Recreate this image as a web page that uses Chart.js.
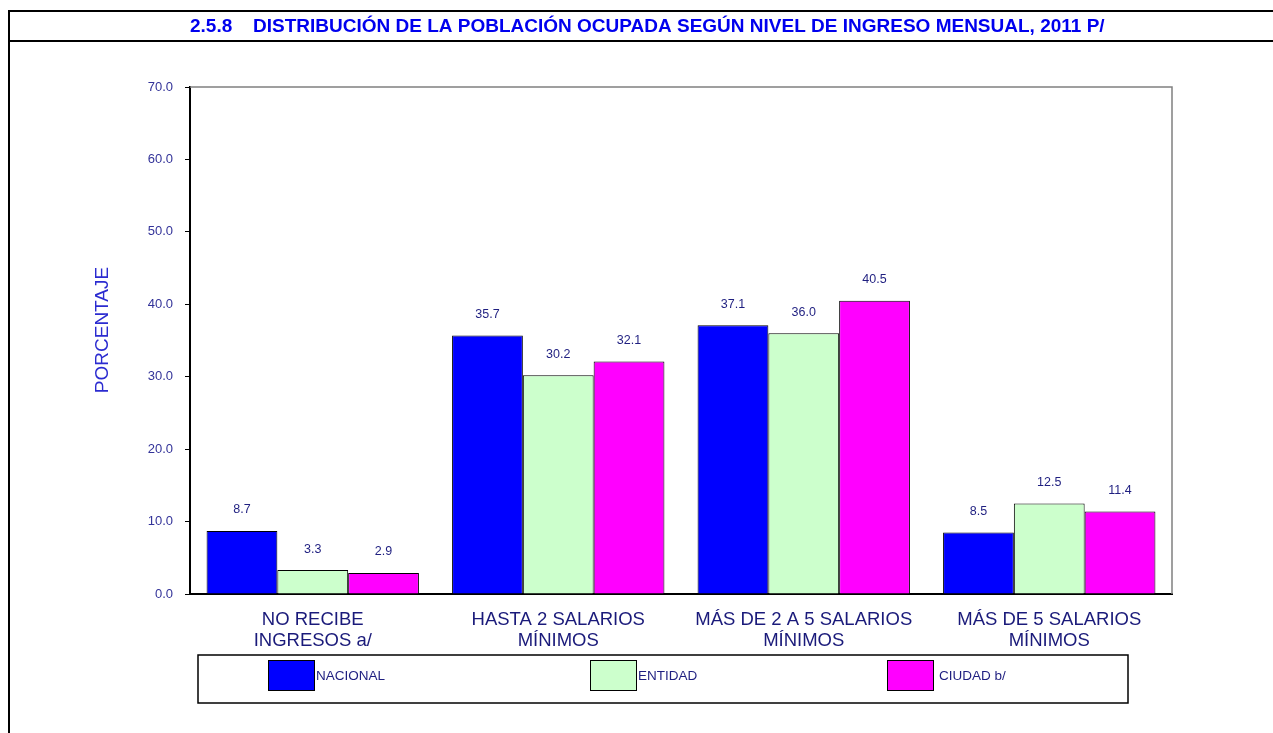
<!DOCTYPE html>
<html>
<head>
<meta charset="utf-8">
<script src="https://cdn.jsdelivr.net/npm/chart.js@4.4.0/dist/chart.umd.min.js"></script>
<style>
  html, body { margin: 0; padding: 0; background: #fff; }
  #wrap { position: relative; width: 1273px; height: 733px; }
</style>
</head>
<body>
<div id="wrap"><canvas id="incomeChart" width="1273" height="733"></canvas></div>
<script>
// Data
const categories = [
  ["NO RECIBE", "INGRESOS a/"],
  ["HASTA 2 SALARIOS", "MÍNIMOS"],
  ["MÁS DE 2 A 5 SALARIOS", "MÍNIMOS"],
  ["MÁS DE 5 SALARIOS", "MÍNIMOS"]
];
const seriesNames = ["NACIONAL", "ENTIDAD", "CIUDAD b/"];
const nacional = [8.7, 35.7, 37.1, 8.5];
const entidad = [3.3, 30.2, 36.0, 12.5];
const ciudad = [2.9, 32.1, 40.5, 11.4];
const yTicks = [0, 10, 20, 30, 40, 50, 60, 70];

const titleNum = "2.5.8";
const titleText = "DISTRIBUCIÓN DE LA POBLACIÓN OCUPADA SEGÚN NIVEL DE INGRESO MENSUAL, 2011 P/";
const yTitle = "PORCENTAJE";

const SANS = "'Liberation Sans', Arial, sans-serif";

// frame, title, y title, plot border, value labels, legend box
const decor = {
  id: "decor",
  afterDraw(chart) {
    const c = chart.ctx;
    const area = chart.chartArea;
    c.save();

    // outer frame
    c.strokeStyle = "#000";
    c.lineWidth = 2;
    c.beginPath();
    c.moveTo(9, 11); c.lineTo(1273, 11);
    c.moveTo(9, 41); c.lineTo(1273, 41);
    c.moveTo(9, 10); c.lineTo(9, 733);
    c.stroke();

    // title
    c.fillStyle = "#0000ee";
    c.font = "bold 19px " + SANS;
    c.textBaseline = "middle";
    c.textAlign = "left";
    c.fillText(titleNum, 190, 27);
    c.fillText(titleText, 253, 27);

    // y title
    c.save();
    c.translate(103, 330);
    c.rotate(-Math.PI / 2);
    c.textAlign = "center";
    c.fillStyle = "#2b2bd0";
    c.font = "19px " + SANS;
    c.fillText(yTitle, 0, 0);
    c.restore();

    // plot border top / right
    c.strokeStyle = "#808080";
    c.lineWidth = 1.5;
    c.beginPath();
    c.moveTo(area.left, area.top);
    c.lineTo(area.right, area.top);
    c.lineTo(area.right, area.bottom);
    c.stroke();

    // value labels
    c.fillStyle = "#1f1f80";
    c.font = "12.5px " + SANS;
    c.textAlign = "center";
    c.textBaseline = "middle";
    chart.data.datasets.forEach((ds, i) => {
      chart.getDatasetMeta(i).data.forEach((bar, j) => {
        c.fillText(ds.data[j].toFixed(1), bar.x, bar.y - 21);
      });
    });

    // legend box
    c.strokeStyle = "#000";
    c.lineWidth = 1.5;
    c.strokeRect(198, 655, 930, 48);
    const swatchX = [268, 590, 887];
    chart.data.datasets.forEach((ds, i) => {
      c.fillStyle = ds.backgroundColor;
      c.fillRect(swatchX[i], 660, 46, 30);
      c.lineWidth = 1;
      c.strokeRect(swatchX[i] + 0.5, 660.5, 46, 30);
      c.fillStyle = "#1f1f80";
      c.textAlign = "left";
      c.font = "13.5px " + SANS;
      c.fillText(ds.label, swatchX[i] + 48 + (i === 2 ? 4 : 0), 676);
    });

    c.restore();
  }
};

const ctx = document.getElementById("incomeChart").getContext("2d");
new Chart(ctx, {
  type: "bar",
  data: {
    labels: categories,
    datasets: [
      { label: seriesNames[0], data: nacional, backgroundColor: "#0000ff" },
      { label: seriesNames[1], data: entidad, backgroundColor: "#ccffcc" },
      { label: seriesNames[2], data: ciudad, backgroundColor: "#ff00ff" }
    ].map(d => Object.assign(d, {
      borderColor: "#000",
      borderWidth: 1,
      borderSkipped: "bottom",
      categoryPercentage: 0.865,
      barPercentage: 1.0
    }))
  },
  options: {
    responsive: false,
    animation: false,
    layout: { padding: { left: 0, top: 87, right: 101, bottom: 0 } },
    plugins: {
      legend: { display: false },
      tooltip: { enabled: false }
    },
    scales: {
      x: {
        grid: { display: false },
        border: { display: true, color: "#000", width: 2 },
        ticks: {
          color: "#1a1a7a",
          font: { family: SANS, size: 18.5, lineHeight: 1.1 },
          padding: 8,
          maxRotation: 0,
          autoSkip: false
        },
        afterFit(scale) { scale.height = 733 - 594; }
      },
      y: {
        min: 0,
        max: 70,
        afterBuildTicks(scale) { scale.ticks = yTicks.map(v => ({ value: v })); },
        grid: { drawOnChartArea: false, drawTicks: true, tickLength: 5, color: "#000" },
        border: { display: true, color: "#000", width: 2 },
        ticks: {
          color: "#333399",
          font: { family: SANS, size: 13 },
          padding: 12,
          callback: v => v.toFixed(1)
        },
        afterFit(scale) { scale.width = 190; }
      }
    }
  },
  plugins: [decor]
});
</script>
</body>
</html>
